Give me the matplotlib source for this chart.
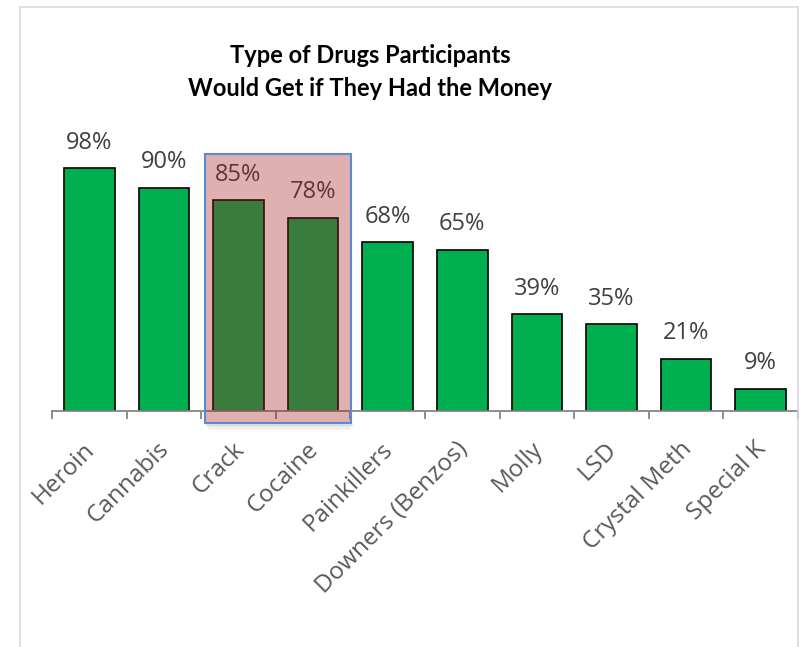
#!/usr/bin/env python3
"""
Bar chart: type of drugs participants would get if they had the money
"""

import matplotlib
matplotlib.use('Agg')
import matplotlib.pyplot as plt
from matplotlib.patches import Rectangle
from matplotlib.transforms import ScaledTranslation
import numpy as np

# Data
drugs = ['Heroin', 'Cannabis', 'Crack', 'Cocaine', 'Painkillers',
         'Downers (Benzos)', 'Molly', 'LSD', 'Crystal Meth', 'Special K']
shares = [0.98, 0.90, 0.85, 0.78, 0.68, 0.65, 0.39, 0.35, 0.21, 0.09]
highlighted = ['Crack', 'Cocaine']

title = 'Type of Drugs Participants\nWould Get if They Had the Money'

W, H = 800, 647
fig = plt.figure(figsize=(W / 100, H / 100), dpi=100)

# light gray chart border (open at the bottom, as in the source crop)
border = dict(color='#D9D9D9', lw=1.2)
fig.add_artist(plt.Line2D([20 / W, 20 / W], [0, 1 - 7 / H], **border))
fig.add_artist(plt.Line2D([20 / W, 798 / W], [1 - 7 / H, 1 - 7 / H], **border))
fig.add_artist(plt.Line2D([798 / W, 798 / W], [0, 1 - 7 / H], **border))

# axes: baseline at y=411px, 100% at y=163px, x from 52px to 798px
ax = fig.add_axes([52 / W, 1 - 411 / H, 746 / W, 248 / H])
x = np.arange(len(drugs))
ax.bar(x, shares, width=0.68, color='#00B050', edgecolor='black', linewidth=1.2, zorder=2)

for xi, v in zip(x, shares):
    ax.annotate(f'{v * 100:.0f}%', (xi, v), xytext=(0, 14), textcoords='offset points',
                ha='center', va='baseline', fontsize=17, color='#404040',
                family='Open Sans', zorder=3, annotation_clip=False)

ax.set_xlim(-0.5, len(drugs) - 0.5)
ax.set_ylim(0, 1)
ax.set_yticks([])
for side in ['left', 'right', 'top']:
    ax.spines[side].set_visible(False)
ax.spines['bottom'].set_color('#868686')
ax.spines['bottom'].set_linewidth(1.3)

ax.set_xticks(x)
ax.set_xticklabels(drugs, rotation=45, ha='right', va='center', rotation_mode='anchor',
                   fontsize=17.5, color='#595959', family='Open Sans')
ax.tick_params(axis='x', which='major', length=0, pad=25)
shift = ScaledTranslation(2 / 100, 0, fig.dpi_scale_trans)
for lab in ax.get_xticklabels():
    lab.set_transform(lab.get_transform() + shift)
ax.set_xticks(np.arange(-0.5, len(drugs)), minor=True)
ax.tick_params(axis='x', which='minor', length=6, width=1.3, color='#868686')
ax.patch.set_visible(False)

# highlight box over Crack and Cocaine, with a soft shadow under it
idx = [drugs.index(d) for d in highlighted]
x0 = min(idx) - 0.45
x1 = max(idx) + 0.51
for k in range(4):
    ax.add_patch(Rectangle((x0 + 0.02 + 0.01 * k, -0.06 - 0.006 * k), x1 - x0 - 0.02 * k, 0.012,
                           facecolor='#000000', alpha=0.07 - 0.015 * k, edgecolor='none',
                           zorder=3, clip_on=False))
ax.add_patch(Rectangle((x0, -0.048), x1 - x0, 1.084, facecolor='#A61D1D',
                       alpha=0.35, edgecolor='none', zorder=4, clip_on=False))
ax.add_patch(Rectangle((x0, -0.048), x1 - x0, 1.084, facecolor='none',
                       edgecolor='#5B8BD0', linewidth=1.5, zorder=5, clip_on=False))

fig.text(370 / W, 1 - 72 / H, title, ha='center', va='center', fontsize=17,
         fontweight='bold', family='Lato', linespacing=1.5, color='black')

fig.savefig('out.png', dpi=100)
